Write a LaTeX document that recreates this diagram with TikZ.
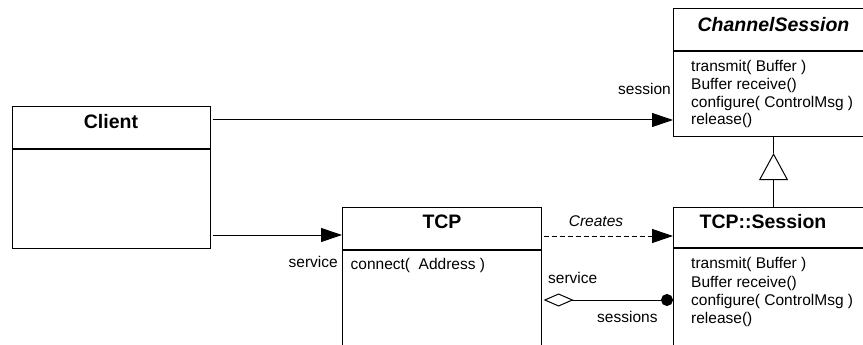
\documentclass[tikz,border=0pt]{standalone}
\usepackage{fontspec}
\setmainfont{Liberation Sans}
\usetikzlibrary{arrows.meta}
\begin{document}
\begin{tikzpicture}[x=1pt,y=-1pt,
  box/.style={draw,line width=1.1pt,rectangle,inner sep=0pt,anchor=north west},
  title/.style={inner sep=0pt,font=\fontsize{19.5}{22}\selectfont\bfseries},
  txt/.style={inner sep=0pt,anchor=base west,font=\fontsize{15.5}{18}\selectfont},
  lbl/.style={inner sep=0pt,font=\fontsize{15.5}{18}\selectfont},
  conn/.style={line width=1pt},
  tip/.style={-{Triangle[length=21pt,width=14pt]}},
  sep/.style={line width=1.1pt},
]
\useasboundingbox (0,0) rectangle (863,345);
\clip (0,0) rectangle (863,345);

% boxes
\node[box,minimum width=198pt,minimum height=142pt] (client) at (12,106) {};
\node[box,minimum width=199pt,minimum height=160pt] (tcp) at (342,207) {};
\node[box,minimum width=200pt,minimum height=160pt] (tcps) at (673,207) {};
\node[box,minimum width=200pt,minimum height=128pt] (chs) at (673,8) {};

% compartment separators
\draw[sep] (client.west |- 0,149) -- (client.east |- 0,149);
\draw[sep] (tcp.west |- 0,250) -- (tcp.east |- 0,250);
\draw[sep] (tcps.west |- 0,248) -- (tcps.east |- 0,248);
\draw[sep] (chs.west |- 0,51) -- (chs.east |- 0,51);

% titles
\node[title] (clientT) at (111,122) {Client};
\node[title] (tcpT) at (442,222) {TCP};
\node[title] (tcpsT) at (763,222) {TCP::Session};
\node[title,font=\fontsize{19.5}{22}\selectfont\bfseries\itshape] (chsT) at (773.5,25) {ChannelSession};

% operations
\node[txt] (c1) at (691,71.5) {transmit( Buffer )};
\node[txt] (c2) at (691,89.5) {Buffer receive()};
\node[txt] (c3) at (691,107) {configure( ControlMsg )};
\node[txt] (c4) at (691,124.5) {release()};
\node[txt] (s1) at (691,268.5) {transmit( Buffer )};
\node[txt] (s2) at (691,287) {Buffer receive()};
\node[txt] (s3) at (691,305) {configure( ControlMsg )};
\node[txt] (s4) at (691,323.5) {release()};
\node[txt] (t1) at (350.5,269.5) {connect(\ \ Address )};

% connectors
\draw[conn,tip,shorten <=1.5pt] (client.east |- 0,120) -- (chs.west |- 0,120);
\draw[conn,tip,shorten <=1.5pt] (client.east |- 0,235) -- (tcp.west |- 0,235);
\draw[conn,tip,dash pattern=on 5pt off 3pt,shorten <=1.5pt] (tcp.east |- 0,236) -- (tcps.west |- 0,236);
\draw[conn,{Diamond[open,length=30pt,width=13pt]}-{Circle[length=12pt]},shorten <=1.5pt] (tcp.east |- 0,300) -- (tcps.west |- 0,300);
\draw[conn,-{Triangle[open,length=27pt,width=29pt]}] (tcps.north) -- ([yshift=-16pt]chs.south);
\draw[conn] ([yshift=-16pt]chs.south) -- (chs.south);

% labels
\node[lbl,anchor=base east] (lsession) at (671,95) {session};
\node[lbl,anchor=base east] (lservice) at (338,267.5) {service};
\node[lbl,anchor=base west] (lservice2) at (548,283) {service};
\node[lbl,anchor=base west] (lsessions) at (597,322) {sessions};
\node[lbl,font=\fontsize{15.5}{18}\selectfont\itshape] (creates) at (596,221) {Creates};
\end{tikzpicture}
\end{document}
